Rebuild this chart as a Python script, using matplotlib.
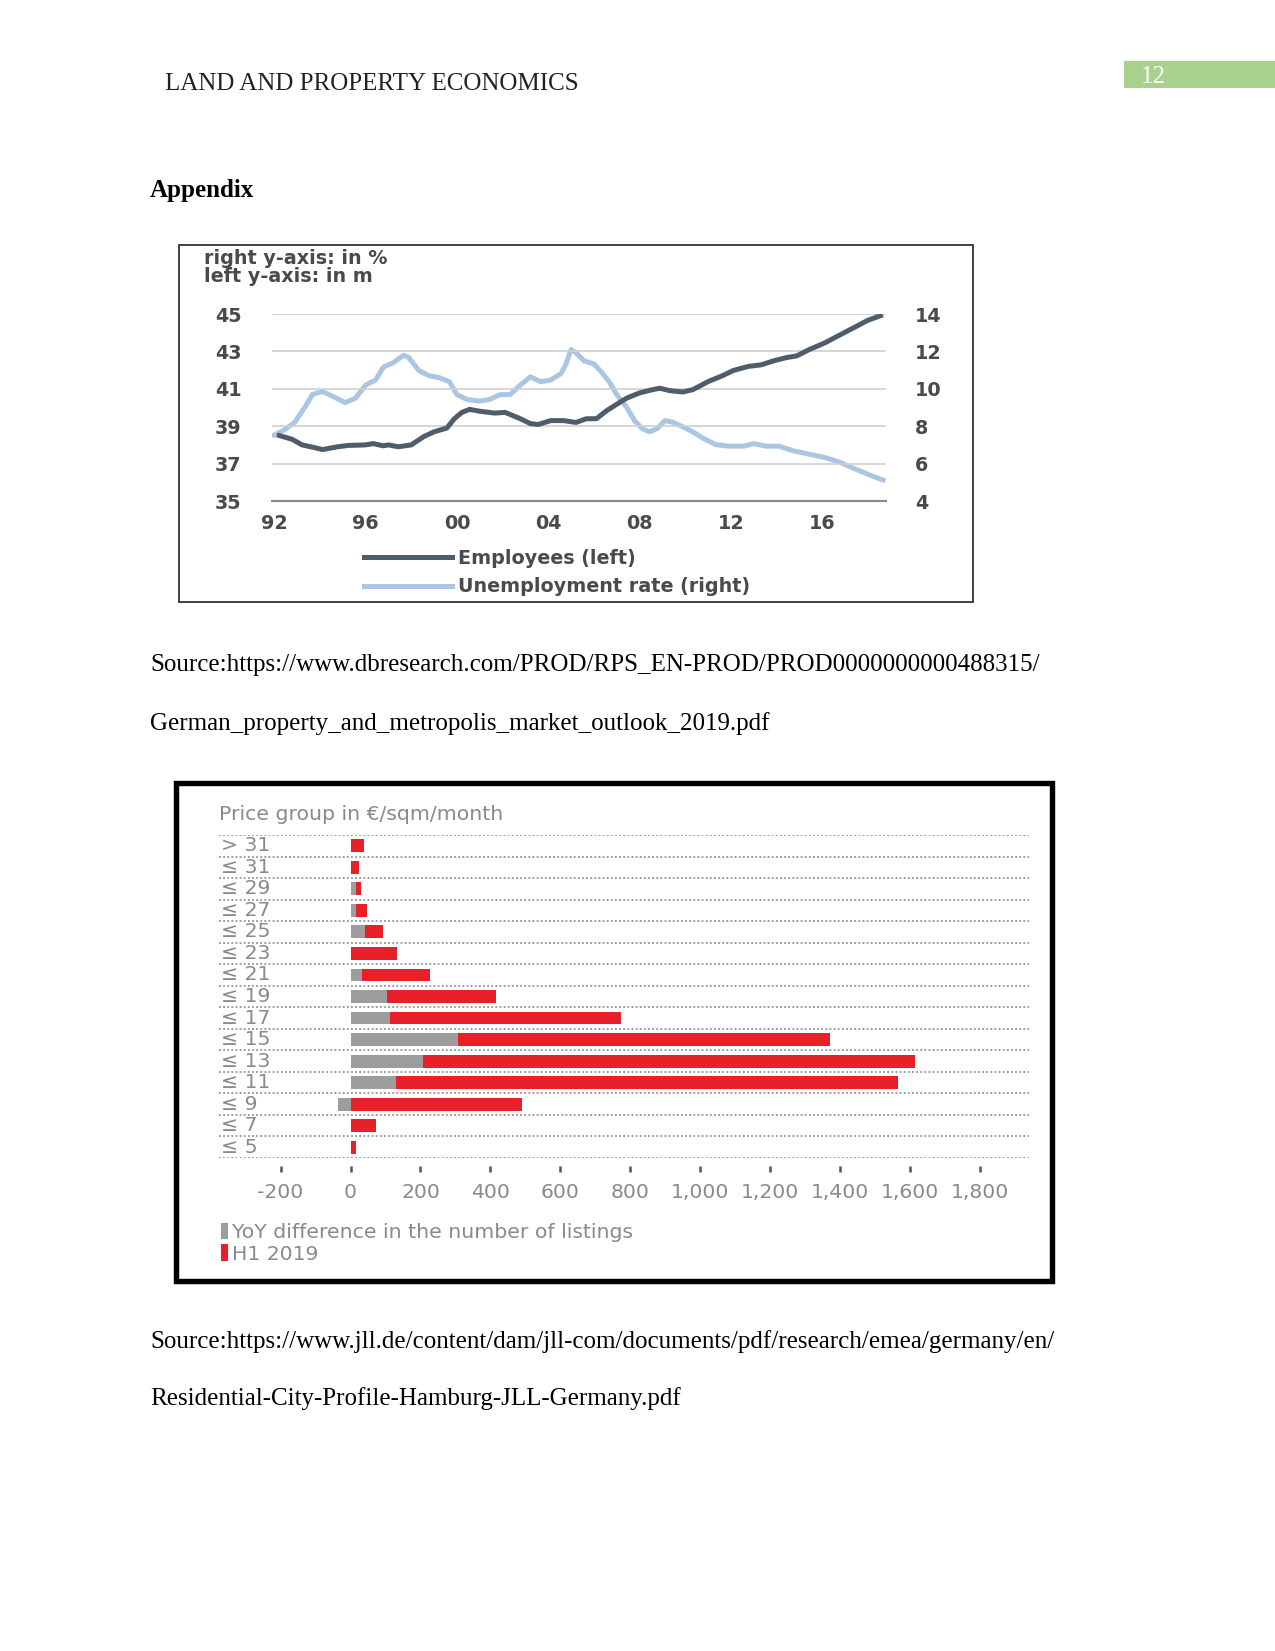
import matplotlib.pyplot as plt
from matplotlib.patches import Rectangle, Patch

# page size in pixels (letter page at 150 dpi)
W, H = 1275, 1651

# chart 1 data: employees (left axis, in m) and unemployment rate (right axis, in %)
emp_years = [1992.22, 1992.78, 1993.22, 1993.78, 1994.11, 1994.78, 1995.22, 1996.0, 1996.33,
             1996.78, 1997.0, 1997.44, 1998.0, 1998.56, 1999.0, 1999.56, 1999.89, 2000.22,
             2000.56, 2001.0, 2001.67, 2002.11, 2002.78, 2003.22, 2003.56, 2004.11, 2004.67,
             2005.22, 2005.67, 2006.11, 2006.56, 2007.0, 2007.44, 2008.0, 2008.56, 2008.89,
             2009.33, 2009.89, 2010.33, 2011.0, 2011.67, 2012.11, 2012.78, 2013.33, 2013.89,
             2014.44, 2014.89, 2015.44, 2016.11, 2016.78, 2017.44, 2018.0, 2018.56]
employees = [38.5, 38.3, 38.0, 37.85, 37.75, 37.9, 37.97, 38.0, 38.07,
             37.95, 38.0, 37.9, 38.0, 38.45, 38.7, 38.9, 39.4, 39.74,
             39.9, 39.8, 39.7, 39.74, 39.4, 39.14, 39.09, 39.3, 39.3,
             39.2, 39.4, 39.4, 39.83, 40.17, 40.5, 40.78, 40.95, 41.03,
             40.9, 40.83, 40.95, 41.38, 41.72, 41.98, 42.2, 42.28, 42.5,
             42.67, 42.76, 43.1, 43.45, 43.88, 44.3, 44.66, 44.91]

unemp_years = [1992.0, 1992.44, 1992.89, 1993.33, 1993.67, 1994.11, 1994.56, 1995.11, 1995.56,
               1996.0, 1996.44, 1996.78, 1997.22, 1997.67, 1997.89, 1998.33, 1998.78, 1999.22,
               1999.67, 2000.0, 2000.44, 2001.0, 2001.44, 2001.89, 2002.33, 2002.78, 2003.22,
               2003.67, 2004.11, 2004.56, 2004.78, 2005.0, 2005.22, 2005.56, 2006.0, 2006.33,
               2006.67, 2007.0, 2007.44, 2007.78, 2008.11, 2008.44, 2008.78, 2009.11, 2009.44,
               2009.89, 2010.33, 2010.78, 2011.33, 2011.89, 2012.56, 2013.0, 2013.56, 2014.11,
               2014.78, 2015.44, 2016.11, 2016.78, 2017.44, 2018.11, 2018.67]
unemployment = [7.53, 7.8, 8.2, 9.0, 9.69, 9.86, 9.6, 9.26, 9.5,
                10.2, 10.47, 11.16, 11.4, 11.8, 11.67, 10.98, 10.7, 10.6,
                10.38, 9.69, 9.43, 9.34, 9.43, 9.69, 9.69, 10.2, 10.64,
                10.38, 10.47, 10.81, 11.33, 12.1, 11.93, 11.5, 11.33, 10.9,
                10.38, 9.69, 9.0, 8.3, 7.88, 7.7, 7.88, 8.3, 8.22,
                7.97, 7.7, 7.36, 7.02, 6.93, 6.93, 7.07, 6.93, 6.93,
                6.67, 6.5, 6.33, 6.07, 5.72, 5.38, 5.12]

left_ticks = [35, 37, 39, 41, 43, 45]
right_ticks = [4, 6, 8, 10, 12, 14]
year_ticks = [1992, 1996, 2000, 2004, 2008, 2012, 2016]
year_labels = ['92', '96', '00', '04', '08', '12', '16']

# chart 2 data: listings by price group (Hamburg)
price_groups = ['> 31', '≤ 31', '≤ 29', '≤ 27', '≤ 25', '≤ 23', '≤ 21', '≤ 19',
                '≤ 17', '≤ 15', '≤ 13', '≤ 11', '≤ 9', '≤ 7', '≤ 5']
h1_2019 = [40, 23, 30, 46, 92, 133, 227, 416, 773, 1370, 1614, 1565, 490, 72, 16]
yoy_diff = [0, 0, 15, 16, 41, 0, 33, 104, 114, 306, 206, 130, -36, 0, 0]
bar_ticks = [-200, 0, 200, 400, 600, 800, 1000, 1200, 1400, 1600, 1800]


def fx(x):
    return x / W


def fy(y):
    return 1 - y / H


def box(x0, y0, x1, y1):
    return [fx(x0), fy(y1), (x1 - x0) / W, (y1 - y0) / H]


fig = plt.figure(figsize=(W / 150, H / 150), dpi=150)
fig.patch.set_facecolor('white')

serif = ['Liberation Serif', 'DejaVu Serif']
wide = ['DejaVu Sans']

# page header
fig.text(fx(165), fy(84), 'LAND AND PROPERTY ECONOMICS', family=serif, fontsize=12,
         color='#222222', va='center', ha='left')
fig.add_artist(Rectangle((fx(1124), fy(88)), (1275 - 1124) / W, (88 - 61) / H,
                         transform=fig.transFigure, facecolor='#a9d18e', edgecolor='none'))
fig.text(fx(1141), fy(77), '12', family=serif, fontsize=12, color='white', va='center', ha='left')
fig.text(fx(150), fy(191), 'Appendix', family=serif, fontsize=12, fontweight='bold',
         color='black', va='center', ha='left')

# source lines
fig.text(fx(150), fy(665), 'Source:https://www.dbresearch.com/PROD/RPS_EN-PROD/PROD0000000000488315/',
         family=serif, fontsize=12, va='center', ha='left')
fig.text(fx(150), fy(724), 'German_property_and_metropolis_market_outlook_2019.pdf',
         family=serif, fontsize=12, va='center', ha='left')
fig.text(fx(150), fy(1342), 'Source:https://www.jll.de/content/dam/jll-com/documents/pdf/research/emea/germany/en/',
         family=serif, fontsize=12, va='center', ha='left')
fig.text(fx(150), fy(1399), 'Residential-City-Profile-Hamburg-JLL-Germany.pdf',
         family=serif, fontsize=12, va='center', ha='left')

# ---------------- chart 1 ----------------
fig.add_artist(Rectangle((fx(179), fy(602)), (973 - 179) / W, (602 - 245) / H,
                         transform=fig.transFigure, facecolor='none', edgecolor='#222222', lw=0.8))

txt_col = '#4a4a4a'
c1_font = dict(fontsize=9.2, fontweight='bold', color=txt_col, family=wide)
fig.text(fx(204), fy(258), 'right y-axis: in %', va='center', **c1_font)
fig.text(fx(204), fy(277), 'left y-axis: in m', va='center', **c1_font)

ax1 = fig.add_axes(box(272, 314, 886, 501))
ax2 = ax1.twinx()
ax1.set_xlim(1991.9, 2018.8)
ax1.set_ylim(35, 45)
ax2.set_ylim(4, 14)

for t in left_ticks[1:]:
    ax1.axhline(t, color='#d0d0d0', lw=0.8, zorder=0)

l_emp, = ax1.plot(emp_years, employees, color='#4f5d6b', lw=2.4, zorder=3, label='Employees (left)')
l_une, = ax2.plot(unemp_years, unemployment, color='#abc6e2', lw=2.4, zorder=2,
                  label='Unemployment rate (right)')
ax1.set_zorder(ax2.get_zorder() + 1)
ax1.patch.set_visible(False)

for a in (ax1, ax2):
    for s in a.spines.values():
        s.set_visible(False)
ax1.spines['bottom'].set_visible(True)
ax1.spines['bottom'].set_color('#8a8a8a')
ax1.spines['bottom'].set_linewidth(1.0)

ax1.set_xticks(year_ticks, year_labels)
ax1.set_yticks(left_ticks, [str(t) for t in left_ticks], ha='center')
ax2.set_yticks(right_ticks, [str(t) for t in right_ticks], ha='left')
for lab in ax1.get_yticklabels() + ax2.get_yticklabels() + ax1.get_xticklabels():
    lab.set(**c1_font)
ax1.tick_params(axis='y', length=0, pad=21)
ax2.tick_params(axis='y', length=0, pad=14)
ax1.tick_params(axis='x', length=0, pad=6)

leg1 = ax1.legend(handles=[l_emp, l_une], loc='upper left',
                  bbox_to_anchor=(fx(356), fy(541)), bbox_transform=fig.transFigure,
                  frameon=False, handlelength=4.6, handletextpad=0.3, labelspacing=0.5,
                  prop=dict(size=9.2, weight='bold', family=wide[0]), borderaxespad=0)
for t in leg1.get_texts():
    t.set_color(txt_col)

# ---------------- chart 2 ----------------
fig.add_artist(Rectangle((fx(176), fy(1281)), (1052 - 176) / W, (1281 - 783) / H,
                         transform=fig.transFigure, facecolor='none', edgecolor='black', lw=2.6))

gray_txt = '#8a8a8a'
c2_font = dict(family=wide, fontsize=9.8, color=gray_txt)
fig.text(fx(219), fy(814), 'Price group in €/sqm/month', va='center', ha='left', **c2_font)

ax3 = fig.add_axes(box(219, 835, 1029, 1158))
ypos = list(range(len(price_groups)))
ax3.set_ylim(len(price_groups) - 0.5, -0.5)
ax3.set_xlim(-376, 1940)

for k in range(len(price_groups) + 1):
    ax3.axhline(k - 0.5, color='#9a9a9a', lw=0.9, ls=(0, (1, 1.2)), zorder=1)

ax3.barh(ypos, h1_2019, height=0.6, color='#e8202a', zorder=2)
ax3.barh(ypos, yoy_diff, height=0.6, color='#9d9d9d', zorder=3)

for y, lab in zip(ypos, price_groups):
    ax3.text(0.003, y, lab, transform=ax3.get_yaxis_transform(), va='center', ha='left', **c2_font)

ax3.set_yticks([])
for s in ('left', 'right', 'top'):
    ax3.spines[s].set_visible(False)
ax3.spines['bottom'].set_position(('outward', 4))
ax3.spines['bottom'].set_visible(False)
ax3.set_xticks(bar_ticks, [f'{t:,}' for t in bar_ticks])
ax3.tick_params(axis='x', length=3, width=1.2, color='#555555', pad=5, labelcolor=gray_txt,
                labelsize=9.8)
for lab in ax3.get_xticklabels():
    lab.set_family(wide)

leg2 = ax3.legend(handles=[Patch(color='#9d9d9d'), Patch(color='#e8202a')],
                  labels=['YoY difference in the number of listings', 'H1 2019'],
                  loc='upper left', bbox_to_anchor=(fx(214), fy(1215)), bbox_transform=fig.transFigure,
                  frameon=False, handlelength=0.25, handleheight=0.7, handletextpad=0.25,
                  labelspacing=0.12, prop=dict(size=9.8, family=wide[0]), borderaxespad=0)
for t in leg2.get_texts():
    t.set_color(gray_txt)

fig.savefig('out.png', dpi=150)
